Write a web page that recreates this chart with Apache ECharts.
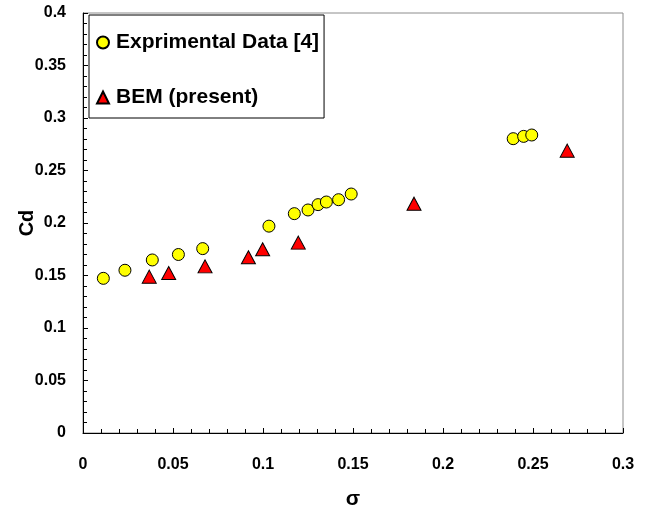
<!DOCTYPE html>
<html><head><meta charset="utf-8">
<script src="https://cdn.jsdelivr.net/npm/echarts@6/dist/echarts.min.js"></script>
<style>html,body{margin:0;padding:0;background:#fff}#c{width:650px;height:512px}</style>
</head><body><div id="c"></div>
<script>
var expSigma = [0.0113, 0.0233, 0.0385, 0.053, 0.0665, 0.1033, 0.1174, 0.125, 0.1306, 0.1352, 0.142, 0.149, 0.239, 0.2448, 0.2493];
var expCd    = [0.1473, 0.155, 0.1648, 0.170, 0.1756, 0.197, 0.2089, 0.2124, 0.2175, 0.220, 0.2222, 0.2276, 0.2803, 0.2825, 0.2838];
var bemSigma = [0.0368, 0.0476, 0.0678, 0.0919, 0.0998, 0.1196, 0.1839, 0.269];
var bemCd    = [0.1489, 0.1524, 0.1587, 0.1673, 0.175, 0.1813, 0.2184, 0.2689];
var seriesNames = ['Exprimental Data [4]', 'BEM (present)'];

function pairs(xs, ys){ return xs.map(function(x,i){ return [x, ys[i]]; }); }

var font = '"Liberation Sans", Arial, sans-serif';
var chart = echarts.init(document.getElementById('c'), null, {renderer:'canvas'});
chart.setOption({
  animation: false,
  backgroundColor: '#fff',
  grid: { left: 83, right: 27, top: 13, bottom: 79, containLabel: false, outerBoundsMode: 'none',
          show: true, borderColor: '#8c8c8c', borderWidth: 1, backgroundColor: '#fff' },
  legend: {
    orient: 'vertical', left: 89, top: 15,
    data: seriesNames,
    itemWidth: 12, itemHeight: 12, itemGap: 34,
    padding: [17, 5, 10, 7],
    borderColor: '#000', borderWidth: 1, backgroundColor: '#fff',
    textStyle: { fontFamily: font, fontWeight: 'bold', fontSize: 21, color: '#000', padding: [0,0,0,2] }
  },
  xAxis: {
    type: 'value', min: 0, max: 0.3, interval: 0.05,
    name: 'σ', nameLocation: 'middle', nameGap: 56, nameMoveOverlap: false,
    nameTextStyle: { fontFamily: font, fontWeight: 'bold', fontSize: 21, color: '#000' },
    axisLine: { show: true, lineStyle: { color: '#000', width: 1 } },
    axisTick: { show: true, inside: true, length: 5, lineStyle: { color: '#000' } },
    minorTick: { show: true, splitNumber: 5, length: 4, lineStyle: { color: '#000' } },
    splitLine: { show: false },
    axisLabel: { fontFamily: font, fontWeight: 'bold', fontSize: 16, color: '#000', margin: 24 }
  },
  yAxis: {
    type: 'value', min: 0, max: 0.4, interval: 0.05,
    name: 'Cd', nameLocation: 'middle', nameGap: 46, nameRotate: 90, nameMoveOverlap: false,
    nameTextStyle: { fontFamily: font, fontWeight: 'bold', fontSize: 20, color: '#000' },
    axisLine: { show: true, lineStyle: { color: '#000', width: 1 } },
    axisTick: { show: true, inside: true, length: 5, lineStyle: { color: '#000' } },
    minorTick: { show: true, splitNumber: 5, length: 4, lineStyle: { color: '#000' } },
    splitLine: { show: false },
    axisLabel: { fontFamily: font, fontWeight: 'bold', fontSize: 16, color: '#000', margin: 17 }
  },
  series: [
    { name: seriesNames[0], type: 'scatter', data: pairs(expSigma, expCd), symbol: 'circle', symbolSize: 12,
      itemStyle: { color: '#ffff00', borderColor: '#000', borderWidth: 1, opacity: 1 } },
    { name: seriesNames[1], type: 'scatter', data: pairs(bemSigma, bemCd), symbol: 'triangle', symbolSize: [14, 13],
      itemStyle: { color: '#ff0000', borderColor: '#000', borderWidth: 1, opacity: 1 } }
  ]
});
</script></body></html>
